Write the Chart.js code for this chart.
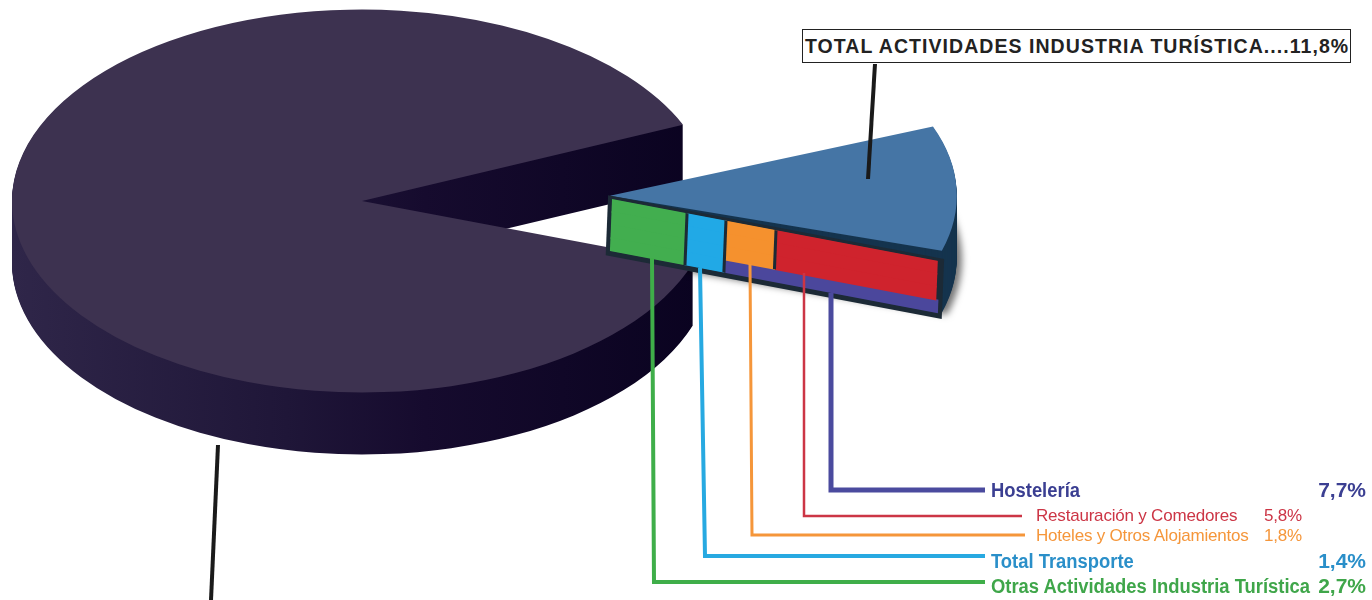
<!DOCTYPE html>
<html>
<head>
<meta charset="utf-8">
<script src="https://cdn.jsdelivr.net/npm/chart.js@4"></script>
<style>
html, body { margin: 0; padding: 0; background: #fff; overflow: hidden; }
#wrap { position: relative; width: 1372px; height: 600px; overflow: hidden; }
canvas { position: absolute; left: 0; top: 0; }
.lbl { position: absolute; white-space: nowrap; font-family: "Liberation Sans", sans-serif; line-height: 1; transform-origin: 0 0; }
.big { font-size: 20px; font-weight: bold; transform: scaleX(0.92); }
.small { font-size: 17px; letter-spacing: -0.2px; }
.big.val { font-size: 21px; transform: none; margin-top: -1px; }
.small.val { transform: none; }
#title { position: absolute; left: 802px; top: 29px; width: 547px; height: 32px; border: 1px solid #222; background: #fff;
    font: bold 19.5px/33px "Liberation Sans", sans-serif; color: #222; white-space: nowrap; letter-spacing: 1.05px; text-indent: 2px; }
</style>
</head>
<body>
<div id="wrap">
    <canvas id="pie" width="1372" height="600"></canvas>
    <canvas id="bars" width="1372" height="600"></canvas>
</div>
<script>
// shares of the whole economy
var pieLabels = ['Resto', 'TOTAL ACTIVIDADES INDUSTRIA TURÍSTICA'];
var pieValues = [88.2, 11.8];
var pieColors = ['#3d3250', '#4575a5'];

// the colored cut face of the slice, one stacked bar split in rows
var faceRows = ['r1', 'r2', 'r3', 'r4'];
var otrasValues = [2.7, 2.7, 2.7, 2.7];
var transporteValues = [1.4, 1.4, 1.4, 1.4];
var hotelesValues = [1.8, 1.8, 1.8, null];
var restauracionValues = [5.8, 5.8, 5.8, null];
var hosteleriaValues = [null, null, null, 7.7];

var legendNames = ['Hostelería', 'Restauración y Comedores', 'Hoteles y Otros Alojamientos', 'Total Transporte', 'Otras Actividades Industria Turística'];
var legendValues = [7.7, 5.8, 1.8, 1.4, 2.7];
var legendColors = ['#3b3f92', '#cc3545', '#f5963a', '#2a8fc9', '#3fa64a'];

function pct(v) {
    return v.toFixed(1).replace('.', ',') + '%';
}

const SQUASH = 0.547;
const DEPTH = 62;

// draws the pie squashed and adds the thickness under each slice
const tiltPlugin = {
    id: 'tilt',
    afterDatasetsUpdate(chart) {
        // Chart.js grows an offset arc, take that back so the slice keeps the pie's size
        const slice = chart.getDatasetMeta(0).data[1];
        const fix = 1 - Math.sin(Math.min(Math.PI, slice.circumference));
        slice.outerRadius = 347 - (slice.options.offset / 4) * fix;
    },
    beforeDatasetsDraw(chart) {
        const ctx = chart.ctx;
        const arcs = chart.getDatasetMeta(0).data;
        const cx = arcs[0].x, cy = arcs[0].y;
        ctx.save();
        ctx.translate(cx, cy);
        ctx.scale(1, SQUASH);
        ctx.translate(-cx, -cy);

        const side = ctx.createLinearGradient(12, 0, 700, 0);
        side.addColorStop(0, '#2f2649');
        side.addColorStop(0.4, '#1f1638');
        side.addColorStop(0.6, '#160b2e');
        side.addColorStop(1, '#0a0320');
        const sideColors = [side, '#15344e'];

        arcs.forEach(function (arc, n) {
            const copy = Object.create(arc);
            copy.options = Object.assign({}, arc.options, { backgroundColor: sideColors[n] });
            for (let y = DEPTH; y > 0; y--) {
                ctx.save();
                if (n == 1 && y == DEPTH) {
                    ctx.shadowColor = 'rgba(0,0,0,0.55)';
                    ctx.shadowBlur = 7;
                    ctx.shadowOffsetX = 5;
                    ctx.shadowOffsetY = 2;
                }
                ctx.translate(0, y / SQUASH);
                copy.draw(ctx);
                ctx.restore();
            }
        });
    },
    afterDatasetsDraw(chart) {
        chart.ctx.restore();
    }
};

new Chart(document.getElementById('pie'), {
    type: 'pie',
    data: {
        labels: pieLabels,
        datasets: [{
            data: pieValues,
            backgroundColor: pieColors,
            borderWidth: 0,
            offset: [0, 992],
            clip: false
        }]
    },
    options: {
        responsive: false,
        animation: false,
        events: [],
        cutout: '0%',
        radius: 350,
        rotation: 109,
        layout: { padding: { right: 648, bottom: 198 } },
        plugins: { legend: { display: false }, tooltip: { enabled: false } }
    },
    plugins: [tiltPlugin]
});

function line(ctx, color, width, pts) {
    ctx.beginPath();
    ctx.moveTo(pts[0][0], pts[0][1]);
    for (let i = 1; i < pts.length; i++) {
        ctx.lineTo(pts[i][0], pts[i][1]);
    }
    ctx.strokeStyle = color;
    ctx.lineWidth = width;
    ctx.lineJoin = 'miter';
    ctx.stroke();
}

// shears the stacked bar onto the cut face, then adds the leader lines on top
const facePlugin = {
    id: 'face',
    beforeDatasetsDraw(chart) {
        const ctx = chart.ctx;
        const a = chart.chartArea;
        ctx.save();
        ctx.translate(a.left, a.top);
        ctx.transform(1, 0.19, -0.04, 1, 0, 0);
        ctx.translate(-a.left, -a.top);
        ctx.fillStyle = '#1c2a36';
        ctx.fillRect(a.left - 4, a.top - 3, a.right - a.left + 8, a.bottom - a.top + 8);
    },
    afterDatasetsDraw(chart) {
        const ctx = chart.ctx;
        const a = chart.chartArea;
        // dark separators at the ends of the first three segments
        ctx.strokeStyle = '#1c2a36';
        ctx.lineWidth = 3;
        [0, 1, 2].forEach(function (n) {
            const bar = chart.getDatasetMeta(n).data[0];
            const low = n == 2 ? chart.getDatasetMeta(n).data[2] : chart.getDatasetMeta(n).data[3];
            ctx.beginPath();
            ctx.moveTo(bar.x, a.top);
            ctx.lineTo(bar.x, low.y + low.height / 2);
            ctx.stroke();
        });
        ctx.restore();
    },
    afterDraw(chart) {
        const ctx = chart.ctx;
        line(ctx, '#1a1a1a', 4, [[875, 64], [868, 179]]);
        line(ctx, '#1a1a1a', 4, [[218, 445], [211, 600]]);
        line(ctx, '#4a4a9e', 5, [[831, 293], [831, 490], [985, 490]]);
        line(ctx, '#cc3545', 2.5, [[804, 273], [804, 516], [1022, 516]]);
        line(ctx, '#f5963a', 3, [[750, 264], [752, 535], [1025, 535]]);
        line(ctx, '#27a9e1', 4, [[700, 268], [705, 556], [985, 556]]);
        line(ctx, '#3fae49', 4, [[652, 258], [654, 582], [985, 582]]);
    }
};

function faceSet(values, color) {
    return {
        data: values,
        backgroundColor: color,
        borderWidth: 0,
        inflateAmount: 0.6,
        barPercentage: 1,
        categoryPercentage: 1
    };
}

new Chart(document.getElementById('bars'), {
    type: 'bar',
    data: {
        labels: faceRows,
        datasets: [
            faceSet(otrasValues, '#42ae4f'),
            faceSet(transporteValues, '#21a9e6'),
            faceSet(hotelesValues, '#f5912e'),
            faceSet(restauracionValues, '#cf232d'),
            faceSet(hosteleriaValues, '#4b479c')
        ]
    },
    options: {
        responsive: false,
        animation: false,
        events: [],
        indexAxis: 'y',
        layout: { padding: { left: 612, right: 432, top: 199, bottom: 349 } },
        scales: {
            x: { display: false, stacked: true, min: 0, max: 11.8 },
            y: { display: false, stacked: true }
        },
        plugins: { legend: { display: false }, tooltip: { enabled: false } }
    },
    plugins: [facePlugin]
});

// text
var wrap = document.getElementById('wrap');
var title = document.createElement('div');
title.id = 'title';
title.textContent = pieLabels[1] + '....' + pct(pieValues[1]);
wrap.appendChild(title);

var nameX = [991, 1036, 1036, 991, 991];
var valueRight = [6, 70, 70, 6, 6];
var rowY = [480, 507, 527, 551, 576];
for (let i = 0; i < legendNames.length; i++) {
    const size = (i == 1 || i == 2) ? 'small' : 'big';
    const n = document.createElement('div');
    n.className = 'lbl ' + size;
    n.style.left = nameX[i] + 'px';
    n.style.top = rowY[i] + 'px';
    n.style.color = legendColors[i];
    n.textContent = legendNames[i];
    wrap.appendChild(n);
    const v = document.createElement('div');
    v.className = 'lbl val ' + size;
    v.style.right = valueRight[i] + 'px';
    v.style.top = rowY[i] + 'px';
    v.style.color = legendColors[i];
    v.textContent = pct(legendValues[i]);
    wrap.appendChild(v);
}
</script>
</body>
</html>
